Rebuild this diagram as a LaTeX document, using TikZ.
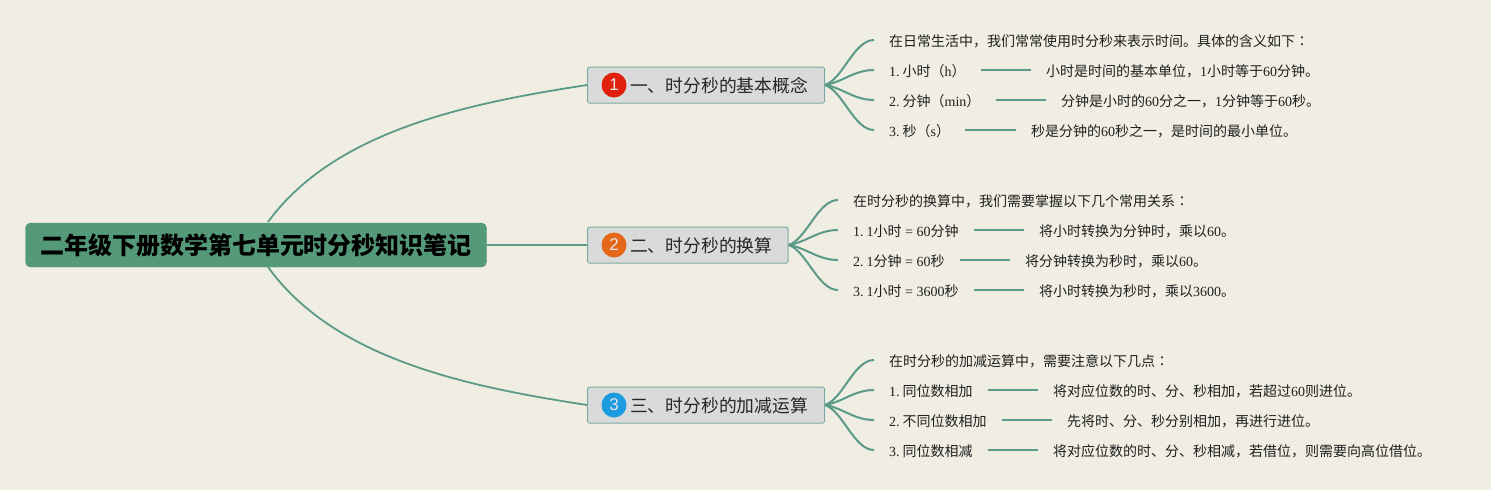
\documentclass[tikz,border=0pt]{standalone}
\usepackage{fontspec}
\setmainfont{Noto Sans CJK SC}
\newfontfamily\latf{Liberation Serif}
\newfontfamily\numf{Liberation Sans}
\newfontfamily\colf{Noto Sans CJK TC}
\newcommand{\lat}[1]{{\latf #1}}
\newcommand{\idx}[1]{{\latf #1.\kern3pt}}
\newcommand{\colo}{{\colf ：}}
\definecolor{bgcol}{HTML}{F0EEE3}
\definecolor{rootcol}{HTML}{559A78}
\definecolor{linecol}{HTML}{5B9A88}
\definecolor{topiccol}{HTML}{D9DBDB}
\definecolor{topicline}{HTML}{7DAAA4}
\definecolor{numred}{HTML}{E0200A}
\definecolor{numorange}{HTML}{E5681A}
\definecolor{numblue}{HTML}{1C9BE0}
\tikzset{
  rootbox/.style={fill=rootcol, draw=rootcol, rounded corners=5pt, minimum width=461pt, minimum height=44pt, inner sep=0pt, text height=20pt, text depth=2pt, font=\fontsize{24}{28}\bfseries\selectfont, text=black},
  topicbox/.style={anchor=west, fill=topiccol, draw=topicline, line width=1pt, rounded corners=1.5pt, minimum height=36pt, inner xsep=16.5pt, inner ysep=0pt, text height=16pt, text depth=2pt, font=\fontsize{17.8}{21}\selectfont, text=black!85},
  numdot/.style={circle, minimum size=25pt, inner sep=0pt, text=white!90!black, font=\fontsize{17}{20}\numf\selectfont},
  leaf/.style={anchor=west, inner xsep=15pt, inner ysep=0pt, text height=13pt, text depth=1pt, font=\fontsize{14}{16}\selectfont, text=black!88},
  branch/.style={draw=linecol, line width=2pt},
  main/.style={draw=linecol, line width=1.8pt}
}
\begin{document}
\begin{tikzpicture}[x=1pt, y=-1pt]
  \fill[bgcol] (0,0) rectangle (1491,490);
  \useasboundingbox (0,0) rectangle (1491,490);

  \node[rootbox] (root) at (256,245) {二年级下册数学第七单元时分秒知识笔记};
  \coordinate (rootup) at (268,222);
  \coordinate (rootdown) at (268,267);

  \node[topicbox] (t1) at (587,85) {\hspace*{26pt}一、时分秒的基本概念};
  \node[topicbox, inner xsep=15.8pt] (t2) at (587,245) {\hspace*{26.7pt}二、时分秒的换算};
  \node[topicbox] (t3) at (587,405) {\hspace*{26pt}三、时分秒的加减运算};
  \node[numdot, fill=numred] (n1) at (614,85) {1};
  \node[numdot, fill=numorange] (n2) at (614,245) {2};
  \node[numdot, fill=numblue] (n3) at (614,405) {3};

  % first topic
  \node[leaf] (a0) at (874,40) {在日常生活中，我们常常使用时分秒来表示时间。具体的含义如下\colo};
  \node[leaf] (a1) at (874,70) {\idx{1}小时（\lat{h}）};
  \node[leaf] (a2) at (874,100) {\idx{2}分钟（\lat{min}）};
  \node[leaf] (a3) at (874,130) {\idx{3}秒（\lat{s}）};
  \node[leaf] (a1d) at (1031,70) {小时是时间的基本单位，\lat{1}小时等于\lat{60}分钟。};
  \node[leaf] (a2d) at (1046,100) {分钟是小时的\lat{60}分之一，\lat{1}分钟等于\lat{60}秒。};
  \node[leaf] (a3d) at (1016,130) {秒是分钟的\lat{60}秒之一，是时间的最小单位。};

  % second topic
  \node[leaf] (b0) at (838,200) {在时分秒的换算中，我们需要掌握以下几个常用关系\colo};
  \node[leaf] (b1) at (838,230) {\idx{1}\lat{1}小时\lat{ = 60}分钟};
  \node[leaf] (b2) at (838,260) {\idx{2}\lat{1}分钟\lat{ = 60}秒};
  \node[leaf] (b3) at (838,290) {\idx{3}\lat{1}小时\lat{ = 3600}秒};
  \node[leaf] (b1d) at (1024,230) {将小时转换为分钟时，乘以\lat{60}。};
  \node[leaf] (b2d) at (1010,260) {将分钟转换为秒时，乘以\lat{60}。};
  \node[leaf] (b3d) at (1024,290) {将小时转换为秒时，乘以\lat{3600}。};

  % third topic
  \node[leaf] (c0) at (874,360) {在时分秒的加减运算中，需要注意以下几点\colo};
  \node[leaf] (c1) at (874,390) {\idx{1}同位数相加};
  \node[leaf] (c2) at (874,420) {\idx{2}不同位数相加};
  \node[leaf] (c3) at (874,450) {\idx{3}同位数相减};
  \node[leaf] (c1d) at (1038,390) {将对应位数的时、分、秒相加，若超过\lat{60}则进位。};
  \node[leaf] (c2d) at (1052,420) {先将时、分、秒分别相加，再进行进位。};
  \node[leaf] (c3d) at (1038,450) {将对应位数的时、分、秒相减，若借位，则需要向高位借位。};

  \draw[main] (rootup) .. controls (335,130) and (470,103) .. (t1.west);
  \draw[main] (root.east) -- (t2.west);
  \draw[main] (rootdown) .. controls (335,360) and (470,387) .. (t3.west);

  \draw[branch] (t1.east) .. controls +(18,-6) and +(-20,0) .. (a0.west);
  \draw[branch] (t1.east) .. controls +(18,-3) and +(-20,0) .. (a1.west);
  \draw[branch] (t1.east) .. controls +(18,3) and +(-20,0) .. (a2.west);
  \draw[branch] (t1.east) .. controls +(18,6) and +(-20,0) .. (a3.west);
  \draw[branch] (t2.east) .. controls +(18,-6) and +(-20,0) .. (b0.west);
  \draw[branch] (t2.east) .. controls +(18,-3) and +(-20,0) .. (b1.west);
  \draw[branch] (t2.east) .. controls +(18,3) and +(-20,0) .. (b2.west);
  \draw[branch] (t2.east) .. controls +(18,6) and +(-20,0) .. (b3.west);
  \draw[branch] (t3.east) .. controls +(18,-6) and +(-20,0) .. (c0.west);
  \draw[branch] (t3.east) .. controls +(18,-3) and +(-20,0) .. (c1.west);
  \draw[branch] (t3.east) .. controls +(18,3) and +(-20,0) .. (c2.west);
  \draw[branch] (t3.east) .. controls +(18,6) and +(-20,0) .. (c3.west);

  \draw[branch] (a1) -- (a1d);
  \draw[branch] (a2) -- (a2d);
  \draw[branch] (a3) -- (a3d);
  \draw[branch] (b1) -- (b1d);
  \draw[branch] (b2) -- (b2d);
  \draw[branch] (b3) -- (b3d);
  \draw[branch] (c1) -- (c1d);
  \draw[branch] (c2) -- (c2d);
  \draw[branch] (c3) -- (c3d);
\end{tikzpicture}
\end{document}
